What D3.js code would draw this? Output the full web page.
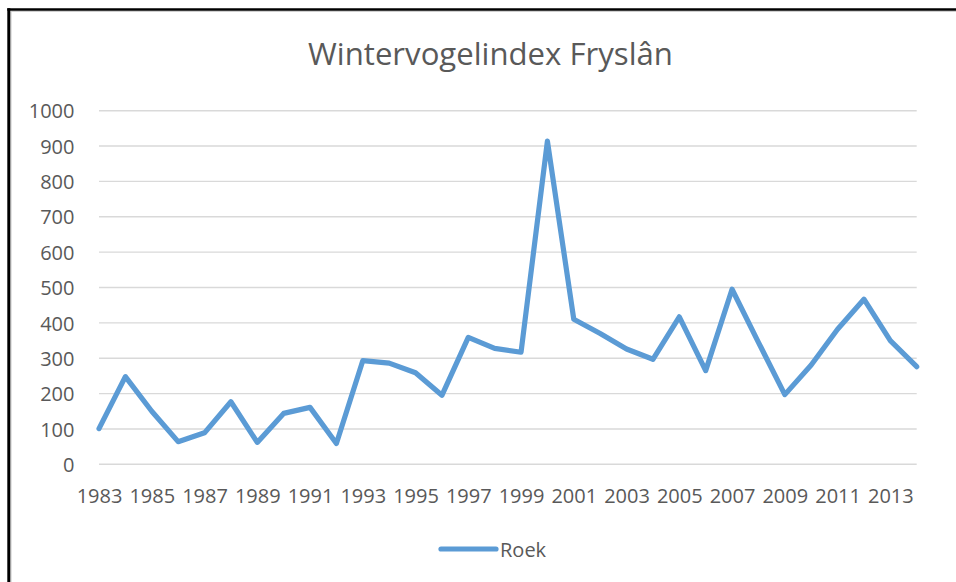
<!DOCTYPE html>
<html>
<head>
<meta charset="utf-8">
<script src="https://cdn.jsdelivr.net/npm/d3@7"></script>
<style>
  html, body { margin: 0; padding: 0; background: #fff; }
  svg { display: block; }
  text { font-family: "Open Sans", sans-serif; fill: #595959; }
</style>
</head>
<body>
<svg id="chart" width="956" height="582"></svg>
<script>
const title = "Wintervogelindex Fryslân";
const seriesName = "Roek";
const years = [1983,1984,1985,1986,1987,1988,1989,1990,1991,1992,1993,1994,1995,1996,1997,1998,
               1999,2000,2001,2002,2003,2004,2005,2006,2007,2008,2009,2010,2011,2012,2013,2014];
const values = [101,248,150,64,89,177,62,144,161,59,293,286,259,195,359,328,
                317,914,410,370,326,297,417,265,495,345,197,281,382,467,350,276];
const yTicks = [0,100,200,300,400,500,600,700,800,900,1000];
const xTickLabels = [1983,1985,1987,1989,1991,1993,1995,1997,1999,2001,2003,2005,2007,2009,2011,2013];

const svg = d3.select("#chart");
const W = 956, H = 582;

// frame
svg.append("line").attr("x1", 11).attr("x2", W).attr("y1", 11.4).attr("y2", 11.4)
  .attr("stroke", "#d0d0d0").attr("stroke-width", 1.2);
svg.append("line").attr("x1", 11).attr("x2", 11).attr("y1", 11).attr("y2", H)
  .attr("stroke", "#d0d0d0").attr("stroke-width", 1.2);
svg.append("line").attr("x1", 7.3).attr("x2", W).attr("y1", 9.5).attr("y2", 9.5)
  .attr("stroke", "#000").attr("stroke-width", 2.6);
svg.append("line").attr("x1", 8.8).attr("x2", 8.8).attr("y1", 8.2).attr("y2", H)
  .attr("stroke", "#000").attr("stroke-width", 3);

const x = d3.scalePoint().domain(years).range([99, 916.7]);
const y = d3.scaleLinear().domain([0, 1000]).range([464.3, 110.7]);

// gridlines
svg.append("g").selectAll("line").data(yTicks).join("line")
  .attr("x1", 99).attr("x2", 916.7)
  .attr("y1", d => y(d)).attr("y2", d => y(d))
  .attr("stroke", "#d9d9d9").attr("stroke-width", 1.4);

// y axis labels
const yAxis = d3.axisLeft(y).tickValues(yTicks).tickSize(0).tickPadding(0).tickFormat(d3.format("d"));
const gy = svg.append("g").attr("transform", "translate(74.5,0)").call(yAxis);
gy.select(".domain").remove();
gy.selectAll("text").attr("font-family", "Open Sans").attr("font-size", 20).style("fill", "#595959")
  .attr("dy", "0.36em");

// x axis labels
const xAxis = d3.axisBottom(x).tickValues(xTickLabels).tickSize(0).tickPadding(0).tickFormat(d => String(d));
const gx = svg.append("g").attr("transform", "translate(0,503)").call(xAxis);
gx.select(".domain").remove();
gx.selectAll("text").attr("font-family", "Open Sans").attr("font-size", 20).style("fill", "#595959")
  .attr("dy", 0).attr("y", 0);

// line
const line = d3.line().x((d, i) => x(years[i])).y(d => y(d));
svg.append("path").datum(values)
  .attr("d", line)
  .attr("fill", "none")
  .attr("stroke", "#5B9BD5")
  .attr("stroke-width", 5.2)
  .attr("stroke-linejoin", "round")
  .attr("stroke-linecap", "round");

// title
const t = svg.append("text").attr("x", 490.5).attr("y", 65).attr("text-anchor", "middle")
  .attr("font-size", 30).text(title);
const tw = t.node().getComputedTextLength();
t.attr("font-size", 30 * 365 / tw);

// legend
const lg = svg.append("g");
lg.append("line").attr("x1", 441).attr("x2", 496).attr("y1", 549).attr("y2", 549)
  .attr("stroke", "#5B9BD5").attr("stroke-width", 5.2).attr("stroke-linecap", "round");
lg.append("text").attr("x", 500).attr("y", 556.5).attr("font-size", 20).text(seriesName);
</script>
</body>
</html>
